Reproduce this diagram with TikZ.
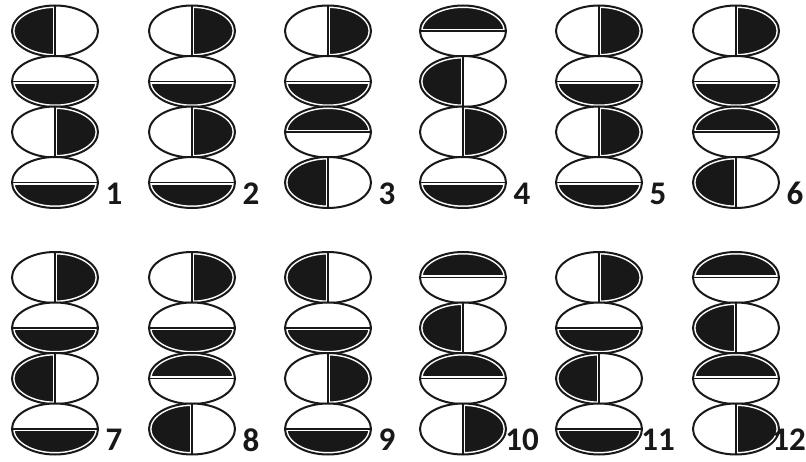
\documentclass[tikz,border=0pt]{standalone}
\usepackage{fontspec}
\newfontfamily\numfont[BoldFont={* Bold}]{Carlito}
\usepackage{tikz}
\definecolor{beadblack}{RGB}{24,24,24}
% one bead: centre x, centre y, angle of the black half (0 right, 90 top, 180 left, 270 bottom)
\newcommand{\bead}[3]{%
  \begin{scope}[shift={(#1,#2)}]
    \begin{scope}
      \clip (0,0) ellipse [x radius=43,y radius=25.5];
      \fill[beadblack,rotate=#3] (0,-50) rectangle (50,50);
      \draw[white,line width=5pt] (0,0) ellipse [x radius=43,y radius=25.5];
      \draw[white,line width=4.6pt,rotate=#3] (0,-50)--(0,50);
      \draw[beadblack,line width=1.7pt,rotate=#3] (0,-50)--(0,50);
    \end{scope}
    \draw[beadblack,line width=2pt] (0,0) ellipse [x radius=43,y radius=25.5];
  \end{scope}
}
% a stack of four beads with its number: [label options] x, top y, number, four angles
\newcommand{\beadstack}[8][]{%
  \bead{#2}{#3}{#5}
  \bead{#2}{#3+50.5}{#6}
  \bead{#2}{#3+101}{#7}
  \bead{#2}{#3+151.5}{#8}
  \node[numlabel,#1] (n#4) at (#2+59,#3+162.5) {#4};
}

\begin{document}
\begin{tikzpicture}[x=1pt,y=-1pt,
    numlabel/.style={inner sep=0pt,font=\numfont\bfseries\fontsize{33}{33}\selectfont,text=beadblack}]
    \useasboundingbox (0,0) rectangle (806,462);
    \beadstack{55}{31}{1}{180}{270}{0}{270}
    \beadstack{192}{31}{2}{0}{270}{0}{270}
    \beadstack{328}{31}{3}{0}{270}{90}{180}
    \beadstack{463}{31}{4}{90}{180}{0}{270}
    \beadstack{599}{31}{5}{0}{270}{0}{270}
    \beadstack{736}{31}{6}{0}{270}{90}{180}
    \beadstack{55}{277.5}{7}{0}{270}{180}{270}
    \beadstack{192}{277.5}{8}{0}{270}{90}{180}
    \beadstack{328}{277.5}{9}{180}{270}{0}{270}
    \beadstack{463}{277.5}{10}{90}{180}{90}{0}
    \beadstack{599}{277.5}{11}{0}{270}{180}{270}
    \beadstack[xshift=-6pt]{736}{277.5}{12}{90}{180}{90}{0}
  \end{tikzpicture}
\end{document}
